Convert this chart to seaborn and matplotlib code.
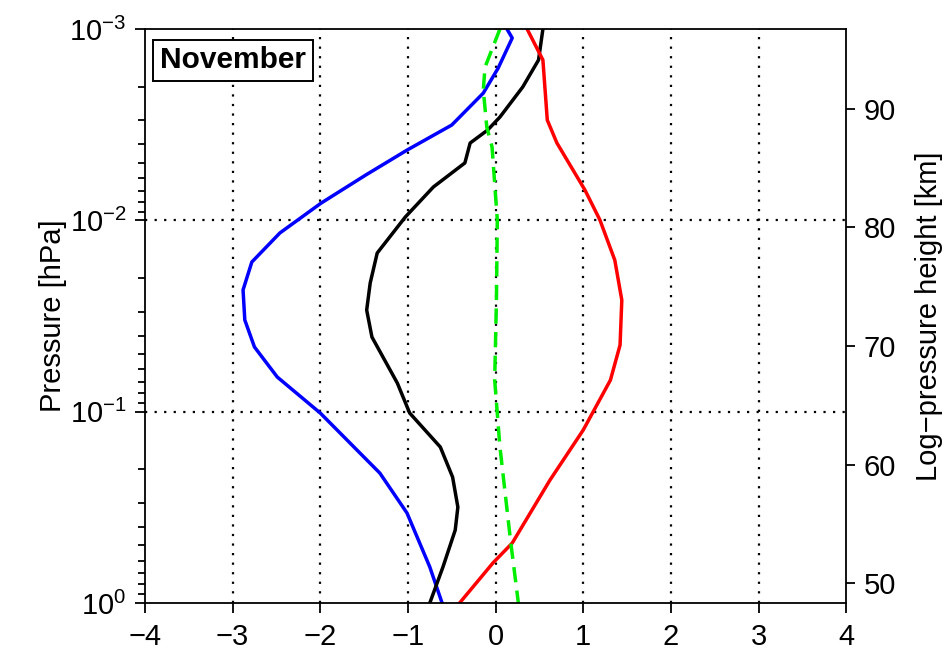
import numpy as np
import pandas as pd
import matplotlib
matplotlib.use("Agg")
import matplotlib.pyplot as plt
import seaborn as sns
from matplotlib.ticker import LogLocator, LogFormatterSciNotation, FixedLocator

# ---- data ----
blue_logp = [-3.0, -2.953, -2.796, -2.665, -2.498, -2.367, -2.237, -2.090, -1.934, -1.782,
             -1.636, -1.479, -1.338, -1.181, -0.993, -0.799, -0.679, -0.470, -0.188, 0.0]
blue_x = [0.13, 0.19, 0.03, -0.14, -0.50, -1.01, -1.48, -1.99, -2.46, -2.78,
          -2.88, -2.86, -2.75, -2.49, -2.00, -1.58, -1.32, -1.01, -0.75, -0.61]

black_logp = [-3.0, -2.838, -2.697, -2.540, -2.472, -2.404, -2.300, -2.174, -2.017, -1.829,
              -1.672, -1.531, -1.390, -1.149, -0.993, -0.815, -0.658, -0.501, -0.381, -0.188, 0.0]
black_x = [0.54, 0.49, 0.31, 0.05, -0.09, -0.29, -0.35, -0.71, -1.03, -1.35,
           -1.43, -1.47, -1.41, -1.12, -0.98, -0.63, -0.49, -0.43, -0.46, -0.60, -0.75]

red_logp = [-3.0, -2.838, -2.524, -2.404, -2.158, -2.002, -1.792, -1.583, -1.348, -1.165,
            -0.904, -0.642, -0.313, -0.209, 0.0]
red_x = [0.36, 0.54, 0.59, 0.70, 1.02, 1.19, 1.36, 1.44, 1.42, 1.31,
         1.00, 0.62, 0.19, -0.03, -0.41]

green_logp = [-3.0, -2.801, -2.681, -2.488, -2.383, -2.002, -1.583, -1.165, -0.815, -0.329, 0.0]
green_x = [0.05, -0.12, -0.14, -0.10, -0.04, 0.02, 0.01, -0.01, 0.05, 0.17, 0.26]

x_ticks = [-4, -3, -2, -1, 0, 1, 2, 3, 4]
height_ticks = [50, 60, 70, 80, 90]
SCALE_H = 7.0  # km

sns.set_theme(style="white")
plt.rcParams['font.family'] = ['Liberation Sans', 'DejaVu Sans']
plt.rcParams['mathtext.fontset'] = 'custom'
plt.rcParams['mathtext.rm'] = 'Liberation Sans'
plt.rcParams['mathtext.it'] = 'Liberation Sans:italic'
plt.rcParams['mathtext.bf'] = 'Liberation Sans:bold'
plt.rcParams['mathtext.sf'] = 'Liberation Sans'
plt.rcParams['text.color'] = 'black'
plt.rcParams['axes.labelcolor'] = 'black'
plt.rcParams['xtick.color'] = 'black'
plt.rcParams['ytick.color'] = 'black'

fig = plt.figure(figsize=(9.53, 6.52), dpi=100)
ax = fig.add_axes([0.152, 0.0752, 0.736, 0.8803])

def frame(xs, lps, name):
    return pd.DataFrame({"x": xs, "p": 10.0 ** np.array(lps), "s": name})

lw = 2.5
sns.lineplot(data=frame(blue_x, blue_logp, "b"), x="x", y="p", orient="y", sort=False,
             color="#0000ff", lw=lw, ax=ax, estimator=None)
sns.lineplot(data=frame(black_x, black_logp, "k"), x="x", y="p", orient="y", sort=False,
             color="black", lw=lw, ax=ax, estimator=None)
sns.lineplot(data=frame(red_x, red_logp, "r"), x="x", y="p", orient="y", sort=False,
             color="#ff0000", lw=lw, ax=ax, estimator=None)
sns.lineplot(data=frame(green_x, green_logp, "g"), x="x", y="p", orient="y", sort=False,
             color="#00ee00", lw=lw, ax=ax, estimator=None, dashes=False)
ax.lines[-1].set_dashes([4.4, 2.4])

ax.set_yscale("log")
ax.set_ylim(1.0, 1e-3)
ax.set_xlim(-4, 4)
ax.set_xticks(x_ticks)
ax.set_xticklabels([("\u2212" + str(-t)) if t < 0 else str(t) for t in x_ticks])
ax.yaxis.set_major_locator(FixedLocator([1e-3, 1e-2, 1e-1, 1.0]))
ax.yaxis.set_major_formatter(LogFormatterSciNotation())
ax.yaxis.set_minor_locator(LogLocator(base=10, subs=np.arange(2, 10)))
ax.yaxis.set_minor_formatter(plt.NullFormatter())

# grid
for t in x_ticks[1:-1]:
    ax.axvline(t, color="black", lw=1.6, ls=(0, (1, 3.3)), zorder=0)
for p in [1e-2, 1e-1]:
    ax.axhline(p, color="black", lw=1.6, ls=(0, (1, 3.3)), zorder=0)

ax.tick_params(axis="x", which="major", direction="out", length=7.2, width=1.3,
               labelsize=21, bottom=True, top=False, pad=7)
ax.tick_params(axis="y", which="major", direction="out", length=7.2, width=1.3,
               labelsize=21, left=True, right=False, pad=6)
ax.tick_params(axis="y", which="minor", direction="out", length=5, width=1.3, left=True, right=False)
for s in ax.spines.values():
    s.set_color("black")
    s.set_linewidth(1.3)
ax.set_xlabel("")
ax.set_ylabel("Pressure [hPa]", fontsize=21, labelpad=2)

ax2 = ax.twinx()
ax2.set_ylim(SCALE_H * np.log(1000.0 / 1.0), SCALE_H * np.log(1000.0 / 1e-3))
ax2.set_yticks(height_ticks)
ax2.tick_params(axis="y", direction="out", length=6.5, width=1.3, labelsize=21, right=True, pad=6)
ax2.set_ylabel("Log\u2212pressure height [km]", fontsize=21, labelpad=14)
for s in ax2.spines.values():
    s.set_visible(False)

ax.text(0.0215, 0.97, "November", transform=ax.transAxes, fontsize=21.5, fontweight="bold",
        va="top", ha="left",
        bbox=dict(boxstyle="square,pad=0.22", fc="white", ec="black", lw=1.4))

fig.savefig("out.png", dpi=100)
